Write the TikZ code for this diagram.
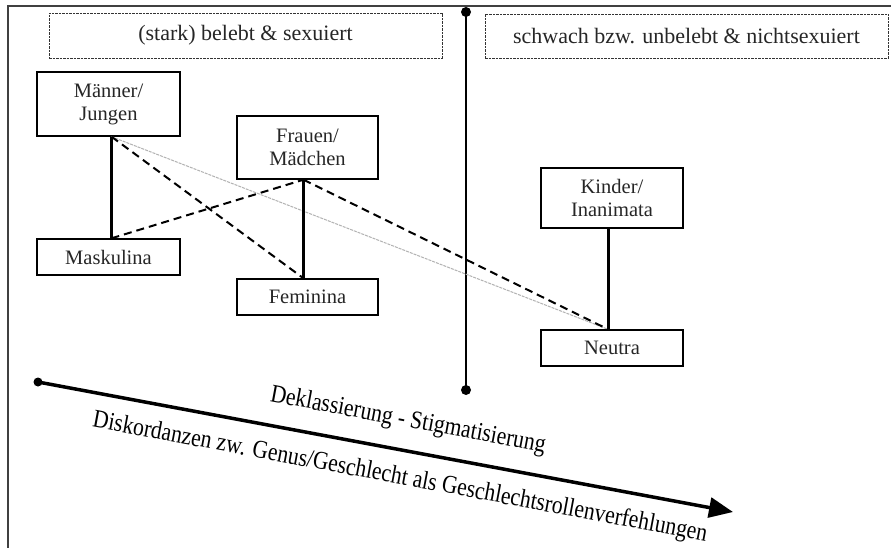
\documentclass[tikz,border=0pt]{standalone}
\usepackage{fontspec}
\setmainfont{Liberation Serif}
\usetikzlibrary{arrows.meta}
\begin{document}
\begin{tikzpicture}[x=1pt,y=-1pt,
  box/.style={draw=black,line width=1.4pt,inner sep=0pt,align=center,font=\fontsize{20.5}{23}\selectfont,text=black!85},
  headbox/.style={draw=black!80,line width=0.9pt,dash pattern=on 2.5pt off 1pt,inner sep=0pt,font=\fontsize{22}{25}\selectfont,text=black!85},
  strong/.style={line width=3pt},
  disc/.style={line width=2pt,dash pattern=on 8pt off 5pt},
  faint/.style={line width=1pt,black!30,dash pattern=on 3pt off 1pt},
  arrtext/.style={font=\fontsize{25.5}{28}\selectfont,rotate=-10.6,text=black}]
\useasboundingbox (0,0) rectangle (891,548);
\fill[white] (0,0) rectangle (891,548);
% frame
\coordinate (fr1) at (8,548);
\coordinate (fr2) at (8,6);
\coordinate (fr3) at (891,6);
\draw[black!75,line width=1.3pt] (fr1) -- (fr2) -- (fr3);
% header boxes
\node[headbox,minimum width=393,minimum height=45] (h1) at (245.5,35.5) {(stark) belebt \& sexuiert};
\node[headbox,minimum width=403,minimum height=44] (h2) at (686.5,36) {schwach bzw. unbelebt \& nichtsexuiert};
% divider
\coordinate (d1) at (466,12);
\coordinate (d2) at (466,390);
\draw[line width=2.6pt] (d1) -- (d2);
\fill (d1) circle (5);
\fill (d2) circle (5);
% nodes
\node[box,minimum width=143,minimum height=64] (m) at (108.5,104) {Männer/\\Jungen};
\node[box,minimum width=141,minimum height=63] (f) at (307.5,147.5) {Frauen/\\Mädchen};
\node[box,minimum width=142,minimum height=60] (k) at (612,198) {Kinder/\\Inanimata};
\node[box,minimum width=143,minimum height=36] (mk) at (108.5,257) {Maskulina};
\node[box,minimum width=141,minimum height=36] (fe) at (307.5,297) {Feminina};
\node[box,minimum width=142,minimum height=36] (ne) at (612,348) {Neutra};
% connection points
\coordinate (ms) at ([xshift=3pt]m.south);
\coordinate (mkn) at ([xshift=3pt]mk.north);
\coordinate (fs) at ([xshift=-4pt]f.south);
\coordinate (fen) at ([xshift=-4pt]fe.north);
\coordinate (ks) at ([xshift=-4pt]k.south);
\coordinate (nen) at ([xshift=-4pt]ne.north);
% links
\draw[faint] (ms) -- (nen);
\draw[strong] (ms) -- (mkn);
\draw[strong] (fs) -- (fen);
\draw[strong] (ks) -- (nen);
\draw[disc] (ms) -- (fen);
\draw[disc] (mkn) -- (fs);
\draw[disc] (fs) -- (nen);
% bottom arrow
\coordinate (a1) at (38,382);
\coordinate (a2) at (733,512);
\draw[line width=3.5pt,-{Triangle[length=24pt,width=20pt]}] (a1) -- (a2);
\fill (a1) circle (4.5);
\node[arrtext] (t1) at (408,421) {\scalebox{0.85}[1]{Deklassierung - Stigmatisierung}};
\node[arrtext] (t2) at (400,478) {\scalebox{0.85}[1]{Diskordanzen zw. Genus/Geschlecht als Geschlechtsrollenverfehlungen}};
\end{tikzpicture}
\end{document}
